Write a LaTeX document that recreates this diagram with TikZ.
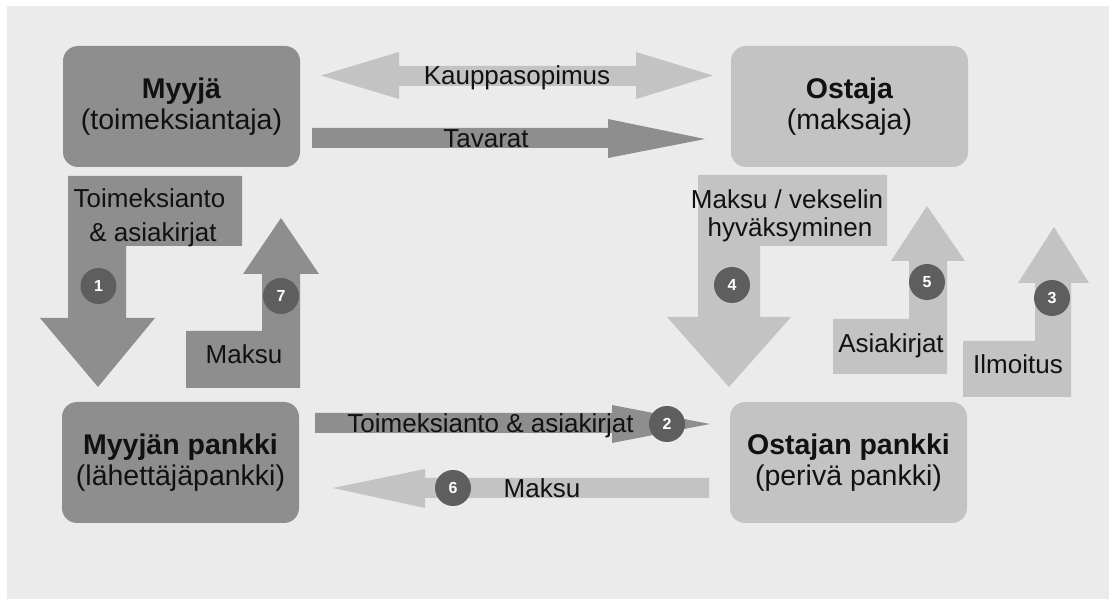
\documentclass[tikz,border=0pt]{standalone}
\usepackage{fontspec}
\setmainfont{Liberation Sans}
\definecolor{bg}{HTML}{EBEBEB}
\definecolor{darkg}{HTML}{8E8E8E}
\definecolor{lightg}{HTML}{C3C3C3}
\definecolor{numg}{HTML}{5E5E5E}
\definecolor{txt}{HTML}{111111}
\tikzset{
 box/.style={rounded corners=15pt, minimum width=237pt, minimum height=121pt, inner sep=0pt, align=center, font=\fontsize{28.5}{31}\selectfont, text=txt},
 darkbox/.style={box, fill=darkg},
 lightbox/.style={box, fill=lightg},
 lbl/.style={anchor=base, inner sep=0pt, font=\fontsize{26}{30}\selectfont, text=txt},
 num/.style={circle, fill=numg, minimum size=36pt, inner sep=0pt, text=white, font=\fontsize{16}{16}\selectfont\bfseries},
 darkarrow/.style={fill=darkg},
 lightarrow/.style={fill=lightg},
}
\begin{document}
\begin{tikzpicture}[x=1pt,y=-1pt]
\useasboundingbox (0,0) rectangle (1112,601);
\fill[white] (0,0) rectangle (1112,601);
\fill[bg] (7,6) rectangle (1109,599);

% boxes
\node[darkbox]  (myyja)  at (181.5,106.5) {\textbf{Myyjä}\\(toimeksiantaja)};
\node[lightbox] (ostaja) at (849.5,106.5) {\textbf{Ostaja}\\(maksaja)};
\node[darkbox]  (mpankki) at (180.5,462.5) {\textbf{Myyjän pankki}\\(lähettäjäpankki)};
\node[lightbox] (opankki) at (848.5,462.5) {\textbf{Ostajan pankki}\\(perivä pankki)};

% top horizontal arrows
\fill[lightarrow] (321,75.5) -- (399,52) -- (399,66) -- (636,66) -- (636,52) -- (713,75.5)
  -- (636,99) -- (636,86) -- (399,86) -- (399,99) -- cycle;
\node[lbl] (kauppa) at (517,85) {Kauppasopimus};
\fill[darkarrow] (312,128) -- (608,128) -- (608,119) -- (705,139) -- (608,158) -- (608,148) -- (312,148) -- cycle;
\node[lbl] (tavarat) at (486,148) {Tavarat};

% bottom horizontal arrows
\fill[darkarrow] (315,413) -- (612,413) -- (612,405) -- (710,424) -- (612,443) -- (612,433) -- (315,433) -- cycle;
\node[lbl] (toim2) at (490.5,433) {Toimeksianto \& asiakirjat};
\node[num] (n2) at (667,424) {2};
\fill[lightarrow] (709,478) -- (425,478) -- (425,469) -- (333,488) -- (425,508) -- (425,498) -- (709,498) -- cycle;
\node[lbl] (maksu6) at (542,498) {Maksu};
\node[num] (n6) at (453,488) {6};

% arrow 1
\fill[darkarrow] (68,176) -- (242,176) -- (242,246) -- (126,246) -- (126,318) -- (155,318)
  -- (98,387) -- (40,318) -- (68,318) -- cycle;
\node[lbl] (toim1a) at (149.5,208) {Toimeksianto};
\node[lbl] (toim1b) at (153,242) {\& asiakirjat};
\node[num] (n1) at (98.5,286) {1};

% arrow 7
\fill[darkarrow] (186,388) -- (300,388) -- (300,274) -- (319,274) -- (281,218) -- (243,274)
  -- (262,274) -- (262,331) -- (186,331) -- cycle;
\node[lbl] (maksu7) at (244,364) {Maksu};
\node[num] (n7) at (281,296) {7};

% arrow 4
\fill[lightarrow] (698,175) -- (887,175) -- (887,246) -- (760,246) -- (760,317) -- (791,317)
  -- (729,387) -- (667,317) -- (698,317) -- cycle;
\node[lbl] (maksu4a) at (787,209) {Maksu / vekselin};
\node[lbl] (maksu4b) at (790,237) {hyväksyminen};
\node[num] (n4) at (732,285) {4};

% arrow 5
\fill[lightarrow] (833,374) -- (947,374) -- (947,261) -- (965,261) -- (927,206) -- (891,261)
  -- (909,261) -- (909,319) -- (833,319) -- cycle;
\node[lbl] (asiak5) at (891,353) {Asiakirjat};
\node[num] (n5) at (927,282) {5};

% arrow 3
\fill[lightarrow] (963,397) -- (1071,397) -- (1071,283) -- (1089,283) -- (1054,227) -- (1018,283)
  -- (1035,283) -- (1035,341) -- (963,341) -- cycle;
\node[lbl] (ilm3) at (1018,374) {Ilmoitus};
\node[num] (n3) at (1052,298) {3};
\end{tikzpicture}
\end{document}
